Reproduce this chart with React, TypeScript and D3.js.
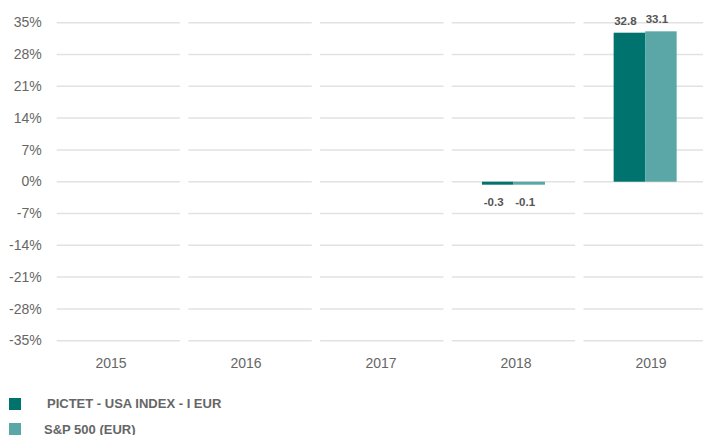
import React from "react";
import * as d3 from "d3";

const years = ["2015", "2016", "2017", "2018", "2019"];
const seriesNames = ["PICTET - USA INDEX - I EUR", "S&P 500 (EUR)"];
const fundValues: (number | null)[] = [null, null, null, -0.3, 32.8];
const indexValues: (number | null)[] = [null, null, null, -0.1, 33.1];
const yTicks = [35, 28, 21, 14, 7, 0, -7, -14, -21, -28, -35];
const colors = ["#00736e", "#5ba7a7"];

export default function App() {
  const W = 703, H = 435;
  const x = d3.scaleBand<string>().domain(years).range([52.5, 711]).padding(0);
  const xLabel = d3.scalePoint<string>().domain(years).range([111, 651]);
  const y = d3.scaleLinear().domain([-35, 35]).range([340.7, 22.7]);
  const inner = d3.scaleBand<string>().domain(["0", "1"]).range([-31.5, 31.5]).padding(0);
  const series = [fundValues, indexValues];
  const gap = 4.15;
  const tickFont = "'Liberation Sans', Arial, sans-serif";

  return (
    <svg width={W} height={H} style={{ position: "absolute", left: 0, top: 0, background: "#fff" }}>
      {yTicks.map((t) => (
        <g key={t}>
          {years.map((yr) => (
            <line key={yr} x1={(x(yr) ?? 0) + gap} x2={(x(yr) ?? 0) + x.bandwidth() - gap}
              y1={y(t)} y2={y(t)} stroke="#e2e2e2" strokeWidth={1.5} />
          ))}
          <text x={41.7} y={y(t) + 1} textAnchor="end" dominantBaseline="middle"
            fontFamily={tickFont} fontSize={14} fill="#666">{t}%</text>
        </g>
      ))}
      {years.map((yr) => (
        <text key={yr} x={xLabel(yr)} y={364} textAnchor="middle" dominantBaseline="middle"
          fontFamily={tickFont} fontSize={14} fill="#666">{yr}</text>
      ))}
      {series.map((vals, si) =>
        vals.map((v, i) => {
          if (v === null) return null;
          const cx = (x(years[i]) ?? 0) + x.bandwidth() / 2;
          const bx = cx + (inner(String(si)) ?? 0);
          const y0 = y(0);
          let top = Math.min(y(v), y0);
          let h = Math.abs(y(v) - y0);
          if (h < 3) h = 3;
          if (v < 0) top = y0;
          const lx = bx + inner.bandwidth() / 2 - 4;
          const ly = v >= 0 ? top - 8 : top + h + 21;
          return (
            <g key={`${si}-${i}`}>
              <rect x={bx} y={top} width={inner.bandwidth()} height={h} fill={colors[si]} />
              <text x={lx} y={ly} textAnchor="middle" fontFamily={tickFont} fontWeight="bold"
                fontSize={11.5} fill="#555">{v.toFixed(1)}</text>
            </g>
          );
        })
      )}
      {seriesNames.map((name, i) => (
        <g key={name}>
          <rect x={9} y={398 + i * 25} width={12} height={12} fill={colors[i]} />
          <text x={i === 0 ? 47 : 44} y={404.5 + i * 26} dominantBaseline="middle"
            fontFamily={tickFont} fontWeight="bold" fontSize={13} fill="#666">{name}</text>
        </g>
      ))}
    </svg>
  );
}
